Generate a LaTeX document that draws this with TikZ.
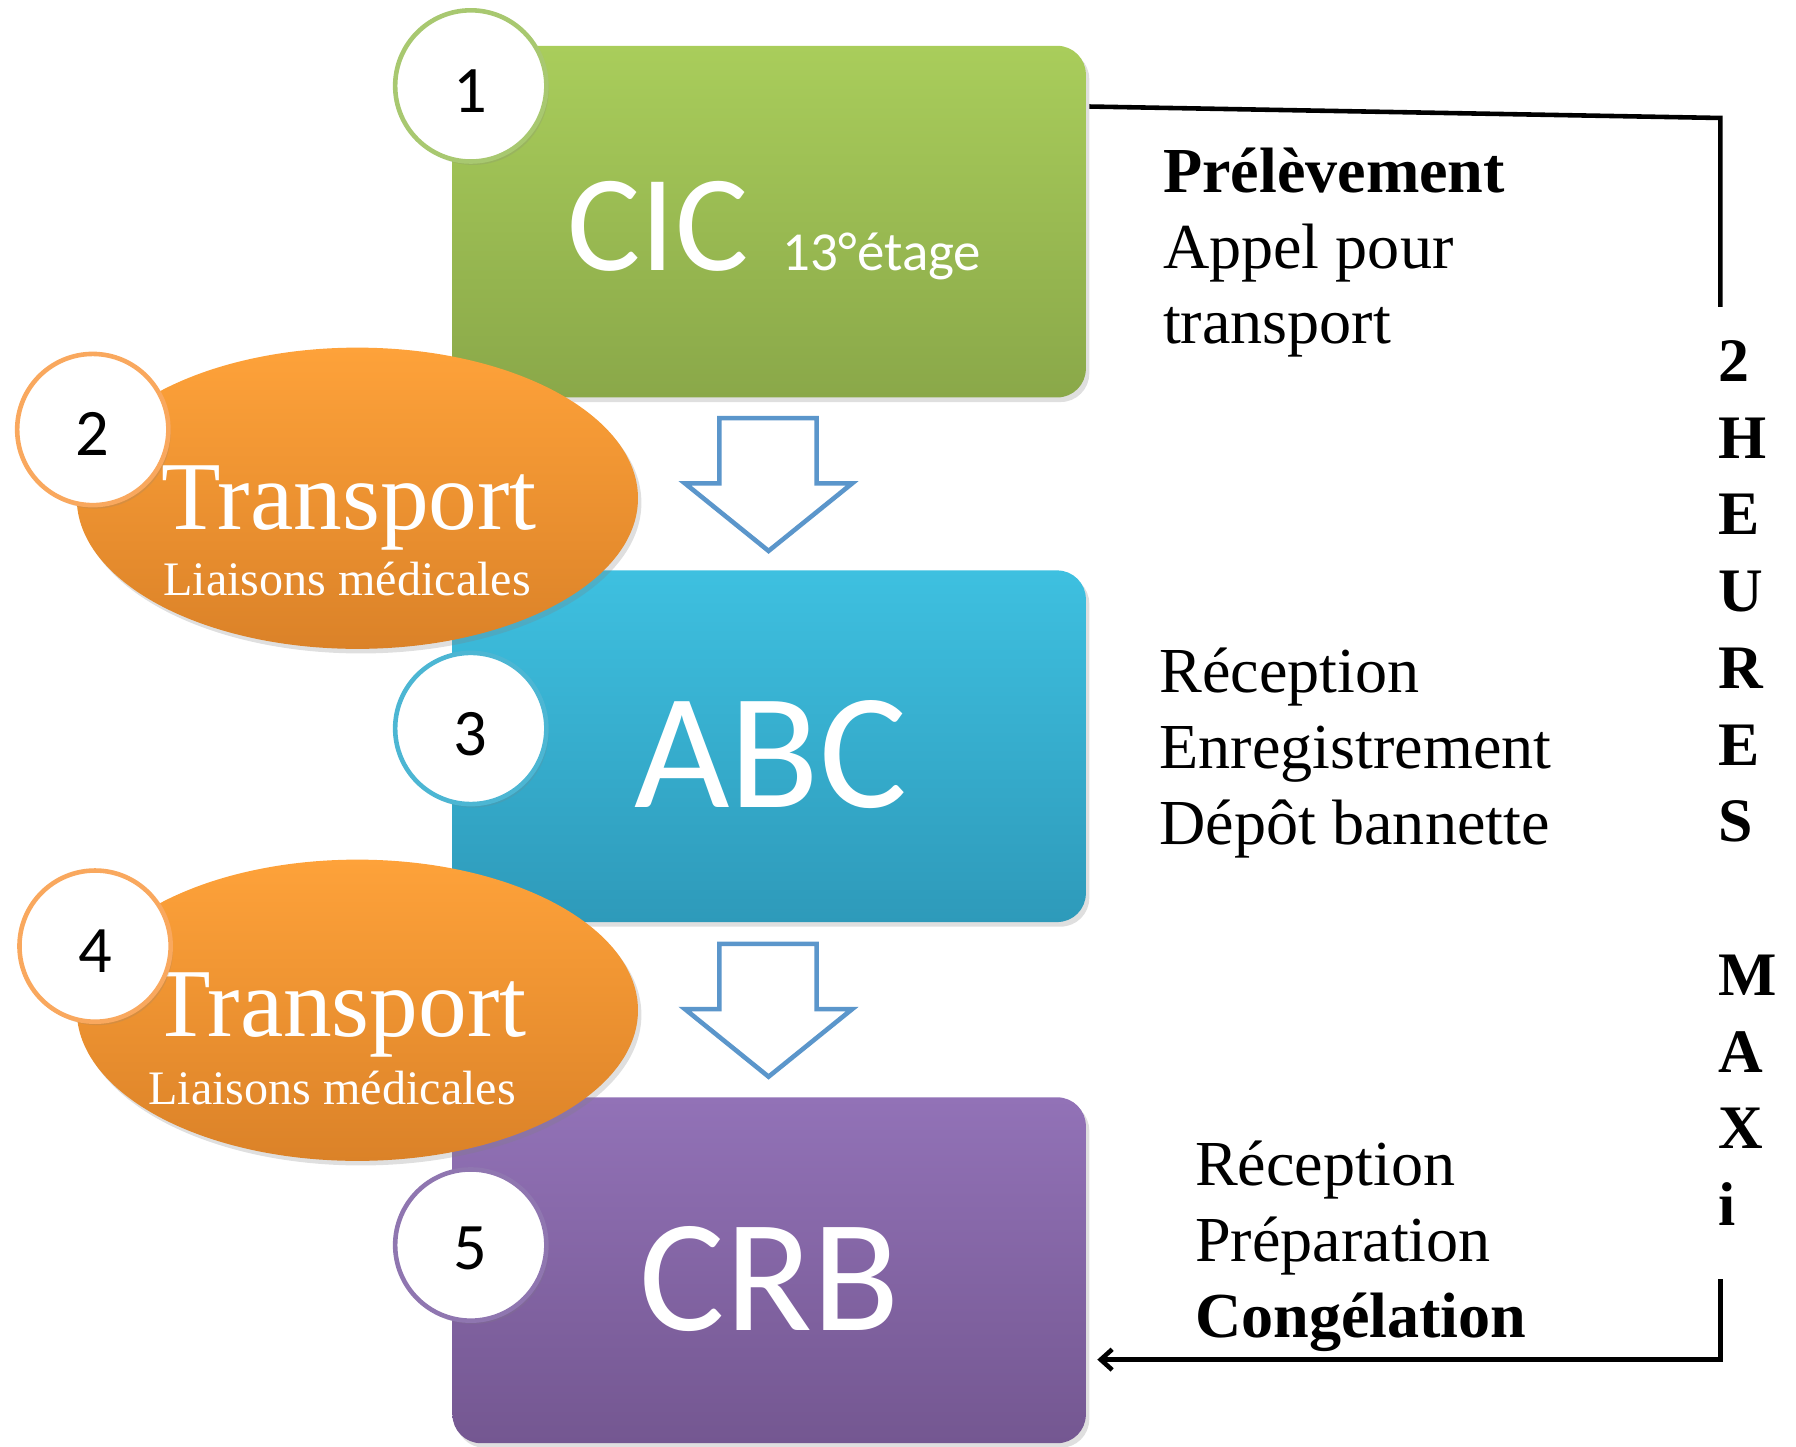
\documentclass[tikz,border=0pt]{standalone}
\usepackage{fontspec}
\setmainfont{Liberation Serif}
\newfontfamily\calfont{Carlito}
\usetikzlibrary{shapes.geometric,shadows,arrows.meta}
\newcommand\fsz[1]{\fontsize{#1pt}{#1pt}\selectfont}
\definecolor{gtop}{HTML}{A9CD5B}\definecolor{gbot}{HTML}{8AA849}
\definecolor{btop}{HTML}{3EC0E0}\definecolor{bbot}{HTML}{2E9ABA}
\definecolor{ptop}{HTML}{9272B7}\definecolor{pbot}{HTML}{745791}
\definecolor{otop}{HTML}{FEA23A}\definecolor{obot}{HTML}{DB8228}
\definecolor{arr}{HTML}{5B96CB}
\definecolor{gring}{HTML}{A8C870}\definecolor{oring}{HTML}{F9A85E}
\definecolor{bring}{HTML}{4CB6D3}\definecolor{pring}{HTML}{8F76B0}
\begin{document}
\begin{tikzpicture}[x=0.5pt,y=-0.5pt,
  stagebox/.style={rectangle, rounded corners=12.5pt, minimum width=276.5pt, minimum height=153.5pt, inner sep=0pt,
     drop shadow={shadow xshift=1.5pt, shadow yshift=-2pt, opacity=0.25}},
  transel/.style={ellipse, minimum width=245pt, minimum height=131.5pt, inner sep=0pt,
     top color=otop, bottom color=obot, drop shadow={shadow xshift=1.5pt, shadow yshift=-2pt, opacity=0.25}},
  numcirc/.style={circle, fill=white, line width=2pt, minimum size=66pt, inner sep=0pt,
     drop shadow={shadow xshift=1pt, shadow yshift=-1.5pt, opacity=0.2}},
  numtxt/.style={anchor=base, inner sep=0pt, font=\calfont\fsz{29}},
  downarrow/.style={draw=arr, fill=white, line width=2pt, line join=miter},
  rtxt/.style={anchor=base west, inner sep=0pt, font=\fsz{28}},
  vtxt/.style={anchor=base west, inner sep=0pt, font=\bfseries\fsz{27}},
  conn/.style={line width=2pt, black},
  wtxt/.style={anchor=base west, inner sep=0pt, text=white}
]
\useasboundingbox (0,0) rectangle (1568,1263);

% boxes
\node[stagebox, top color=gtop, bottom color=gbot] (cic) at (671.5,193.5) {};
\node[stagebox, top color=btop, bottom color=bbot] (abc) at (671.5,651.5) {};
\node[stagebox, minimum height=151pt, top color=ptop, bottom color=pbot] (crb) at (671.5,1109) {};

% box labels
\node[wtxt, font=\calfont\fsz{60}] (cict) at (495,236) {CIC};
\node[wtxt, font=\calfont\fsz{24}] (cics) at (683,236) {13°étage};
\node[wtxt, anchor=base, font=\calfont\fsz{72}] (abct) at (673,705) {ABC};
\node[wtxt, anchor=base, font=\calfont\fsz{70}] (crbt) at (672,1162) {CRB};

% transport ellipses
\node[transel] (tr1) at (312,435) {};
\node[transel] (tr2) at (312,882) {};
\node[wtxt, anchor=base, font=\fsz{42.5}] (tr1a) at (305,462) {Transport};
\node[wtxt, anchor=base, font=\fsz{21}] (tr1b) at (303,520) {Liaisons médicales};
\node[wtxt, anchor=base, font=\fsz{42.5}] (tr2a) at (296,905) {Transport};
\node[wtxt, anchor=base, font=\fsz{21}] (tr2b) at (290,964) {Liaisons médicales};

% number circles
\node[numcirc, draw=gring] (n1) at (411,75) {};
\node[numcirc, draw=oring] (n2) at (81,375) {};
\node[numcirc, draw=bring] (n3) at (411,636) {};
\node[numcirc, draw=oring] (n4) at (83,826) {};
\node[numcirc, draw=pring] (n5) at (411,1087) {};
\node[numtxt] (l1) at (411,98) {1};
\node[numtxt] (l2) at (81,398) {2};
\node[numtxt] (l3) at (411,660) {3};
\node[numtxt] (l4) at (83,849) {4};
\node[numtxt] (l5) at (411,1108) {5};

% down arrows
\draw[downarrow] (628,365) -- (713,365) -- (713,422) -- (744,422) -- (671,481) -- (598,422) -- (628,422) -- cycle;
\draw[downarrow] (628,824) -- (713,824) -- (713,881) -- (744,881) -- (671,940) -- (598,881) -- (628,881) -- cycle;

% right texts
\node[rtxt, font=\bfseries\fsz{28}] (r1) at (1015,168) {Prélèvement};
\node[rtxt] (r2) at (1015,234) {Appel pour};
\node[rtxt] (r3) at (1015,300) {transport};
\node[rtxt] (r4) at (1012,605) {Réception};
\node[rtxt] (r5) at (1012,671) {Enregistrement};
\node[rtxt] (r6) at (1012,737) {Dépôt bannette};
\node[rtxt] (r7) at (1043,1035) {Réception};
\node[rtxt] (r8) at (1043,1101) {Préparation};
\node[rtxt, font=\bfseries\fsz{28}] (r9) at (1043,1168) {Congélation};

% vertical text
\foreach \ch [count=\i] in {2,H,E,U,R,E,S,{},M,A,X,i}
  \node[vtxt] (v\i) at (1500,{333+67*(\i-1)}) {\ch};

% connector
\coordinate (p1) at (951,93);
\coordinate (p2) at (1502,103);
\coordinate (p3) at (1502,268);
\coordinate (q1) at (1502,1117);
\coordinate (q2) at (1502,1187);
\coordinate (q3) at (958,1187);
\draw[conn] (p1) -- (p2) -- (p3);
\draw[conn, -{Straight Barb[length=5pt,width=9pt]}] (q1) -- (q2) -- (q3);
\end{tikzpicture}
\end{document}
